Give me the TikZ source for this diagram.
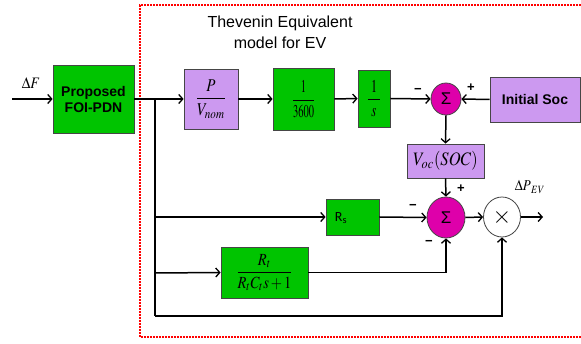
\documentclass[tikz,border=0pt]{standalone}
\usepackage{mathptmx}
\usepackage{fontspec}
\setmainfont{Liberation Sans}
\newfontfamily\calibri{Carlito}
\usetikzlibrary{arrows.meta,shapes.geometric}
\definecolor{boxgreen}{RGB}{0,196,0}
\definecolor{boxpurple}{RGB}{204,153,240}
\definecolor{summag}{RGB}{222,0,170}
\definecolor{edgegray}{RGB}{70,70,70}
\begin{document}
\begin{tikzpicture}[x=1pt,y=-1pt,
  blk/.style={draw=edgegray,line width=0.8pt,inner sep=0pt,minimum width=#1},
  gbox/.style={blk=#1,fill=boxgreen},
  pbox/.style={blk=#1,fill=boxpurple},
  sumnode/.style={ellipse,draw=edgegray,line width=0.8pt,fill=summag,inner sep=0pt,font=\fontsize{17}{17}\selectfont},
  conn/.style={line width=1.5pt},
  arr/.style={conn,-{Straight Barb[length=4pt,width=9pt,line width=1.3pt]}},
  sgn/.style={font=\bfseries\fontsize{13}{13}\selectfont,inner sep=0pt},
  boldtxt/.style={font=\bfseries\fontsize{14}{16}\selectfont,align=center}]
\useasboundingbox (0,0) rectangle (581,344);
\fill[white] (0,0) rectangle (581,344);
% dashed frame
\draw[red,line width=1.3pt,dash pattern=on 1.6pt off 1.4pt] (581,5) -- (140,5) -- (140,337) -- (581,337);
% title
\node[font=\fontsize{16}{21}\selectfont,align=center] (title) at (280,32) {Thevenin Equivalent\\model for EV};
% blocks
\node[gbox=81pt,minimum height=68pt,boldtxt] (fo) at (93.5,99) {Proposed\\FOI-PDN};
\node[pbox=54pt,minimum height=60pt] (pv) at (211,99) {\scalebox{1.5}[1.8]{$\displaystyle\frac{P}{V_{nom}}$}};
\node[gbox=61pt,minimum height=62pt] (k) at (303.5,99) {\scalebox{1.05}[1.8]{$\displaystyle\frac{1}{3600}$}};
\node[gbox=32pt,minimum height=57pt] (ig) at (374,98.5) {\scalebox{1.3}[1.8]{$\displaystyle\frac{\;1\;}{\;s\;}$}};
\node[sumnode,minimum width=30pt,minimum height=32pt] (s1) at (446,99) {Σ};
\node[pbox=90pt,minimum height=45pt,boldtxt] (ini) at (535,99.5) {Initial Soc};
\node[pbox=77pt,minimum height=34pt] (voc) at (445.5,161) {\scalebox{1.65}[1.9]{$V_{oc}(SOC)$}};
\node[sumnode,minimum width=38pt,minimum height=41pt] (s2) at (446,217.5) {Σ};
\node[ellipse,draw=edgegray,line width=0.8pt,fill=white,inner sep=0pt,minimum width=37pt,minimum height=40pt] (m) at (502,217) {};
\node[inner sep=0pt] (mx) at (502,218) {\scalebox{2.4}{$\times$}};
\node[gbox=53pt,minimum height=36pt] (rs) at (352.5,217) {};
\node[font=\calibri\fontsize{14}{14}\selectfont,inner sep=0pt] (rslab) at (341,218) {R\textsubscript{s}};
\node[gbox=87pt,minimum height=51pt] (rt) at (264.5,272.5) {\scalebox{1.45}[1.7]{$\displaystyle\frac{R_t}{R_tC_ts+1}$}};
% labels
\node[inner sep=0pt] (df) at (31,83) {\scalebox{1.4}[1.6]{$\Delta F$}};
\node[inner sep=0pt] (dp) at (530,187) {\scalebox{1.3}[1.5]{$\Delta P_{\hspace{1.5pt}EV}$}};
\node[sgn] (m1) at (418,91) {−};
\node[sgn] (p1) at (471,88) {+};
\node[sgn] (p2) at (461,189) {+};
\node[sgn] (m2) at (413,207) {−};
\node[sgn] (m3) at (429,243) {−};
% coordinates
\coordinate (in) at (12,99);
\coordinate (j1) at (155,99);
\coordinate (j2) at (155,217);
\coordinate (j3) at (155,273);
\coordinate (j4) at (155,316);
\coordinate (out) at (543,217);
% connectors
\draw[arr] (in) -- (fo.west);
\draw[arr] (fo.east) -- (pv.west);
\draw[conn] (j1) -- (j4);
\draw[arr] (pv.east) -- (k.west);
\draw[arr] (k.east) -- (ig.west);
\draw[arr] (ig.east) -- (s1.west);
\draw[arr] (ini.west) -- (s1.east);
\draw[arr] (s1.south) -- (voc.north);
\draw[arr] (voc.south) -- (s2.north);
\draw[arr] (j2) -- (rs.west);
\draw[arr] (rs.east) -- (s2.west);
\draw[arr] (j3) -- (rt.west);
\draw[arr] (rt.east) -- (s2.south |- rt.east) -- (s2.south);
\draw[arr] (j4) -- (m.south |- j4) -- (m.south);
\draw[arr] (s2.east) -- (m.west);
\draw[arr] (m.east) -- (out);
\end{tikzpicture}
\end{document}
